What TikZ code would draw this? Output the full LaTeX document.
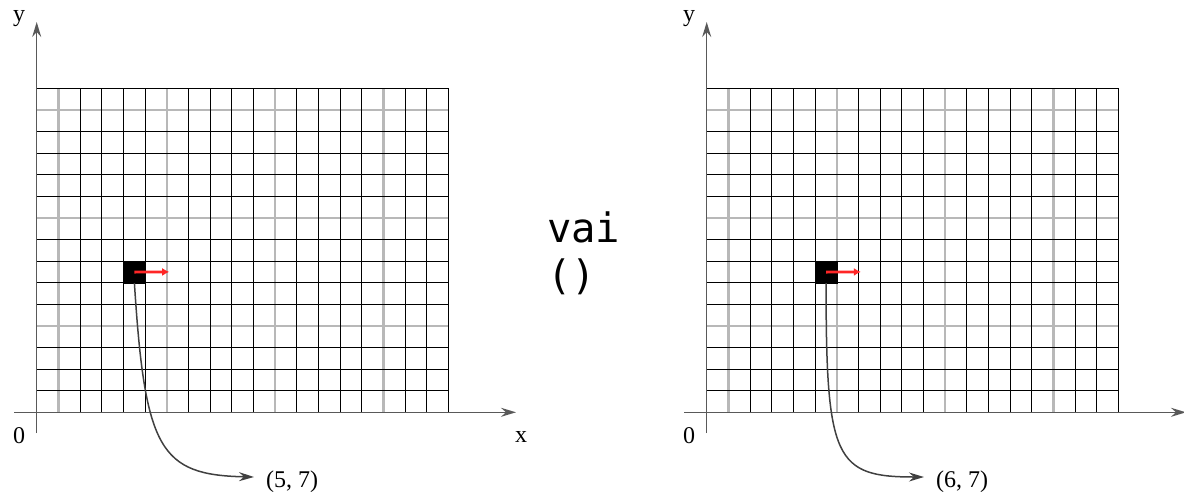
\documentclass[tikz,border=0pt]{standalone}
\usepackage{fontspec}
\setmainfont{Liberation Serif}
\newfontfamily\monofnt{DejaVu Sans Mono}
\usetikzlibrary{arrows.meta}
\tikzset{
 gridline/.style={black, line width=1.0pt},
 grayline/.style={black!28, line width=2.4pt},
 axisline/.style={black!65, line width=1.5pt},
 headtip/.style={-{Stealth[length=15pt,width=9pt,inset=5pt]}},
 lbl/.style={font=\fontsize{24}{26}\selectfont, inner sep=0pt},
 cellbox/.style={fill=black, draw=black, minimum width=21.67pt, minimum height=21.6pt, inner sep=0pt, anchor=north west},
 redarrow/.style={red!85, line width=2.8pt, -{Latex[length=7pt,width=8pt]}},
 pointer/.style={black!75, line width=1.5pt, headtip},
 codetext/.style={font=\monofnt\fontsize{40.5}{47}\selectfont, inner sep=0pt, anchor=base west},
}
\begin{document}
\begin{tikzpicture}[x=1pt,y=-1pt]
\useasboundingbox (0,0) rectangle (1184,491);
\foreach \ox/\col/\lab/\nm/\ax/\ay/\bx/\by in {0/4/{(5, 7)}/a/145/450/160/475, 670/5/{(6, 7)}/b/156/460/165/477} {
 \begin{scope}[xshift=\ox pt]
  % gray grid lines
  \foreach \i in {1,6,11,16} \draw[grayline] (36.7+\i*21.67,88.3) -- (36.7+\i*21.67,412.3);
  \foreach \j in {1,6,11} \draw[grayline] (36.7,88.3+\j*21.6) -- (448.4,88.3+\j*21.6);
  % black grid lines
  \foreach \i in {2,3,4,5,7,8,9,10,12,13,14,15,17,18,19} \draw[gridline] (36.7+\i*21.67,88.3) -- (36.7+\i*21.67,412.3);
  \foreach \j in {0,2,3,4,5,7,8,9,10,12,13,14} \draw[gridline] (36.7,88.3+\j*21.6) -- (448.4,88.3+\j*21.6);
  % axes
  \coordinate (yb\nm) at (36.7,433);
  \coordinate (yt\nm) at (36.7,22);
  \coordinate (xl\nm) at (14,412.3);
  \coordinate (xr\nm) at (516,412.3);
  \draw[axisline, headtip] (yb\nm) -- (yt\nm);
  \draw[axisline, headtip] (xl\nm) -- (xr\nm);
  \node[lbl] (ylab\nm) at (19,19) {y};
  \node[lbl] (zero\nm) at (19,436) {0};
  \node[lbl] (xlab\nm) at (521,437) {x};
  % pixel
  \node[cellbox] (sq\nm) at (36.7+\col*21.67,261.1) {};
  \coordinate (rt\nm) at (36.7+\col*21.67+10.8+35,271.9);
  \draw[redarrow] (sq\nm.center) -- (rt\nm);
  % pointer
  \node[lbl, anchor=base west] (pt\nm) at (266,487) {\lab};
  \coordinate (tip\nm) at (254,477);
  \draw[pointer] (sq\nm.south) .. controls (\ax,\ay) and (\bx,\by) .. (tip\nm);
 \end{scope}
}
\node[codetext] (vai) at (547,242) {vai};
\node[codetext] (paren) at (547,289) {()};
\end{tikzpicture}
\end{document}
